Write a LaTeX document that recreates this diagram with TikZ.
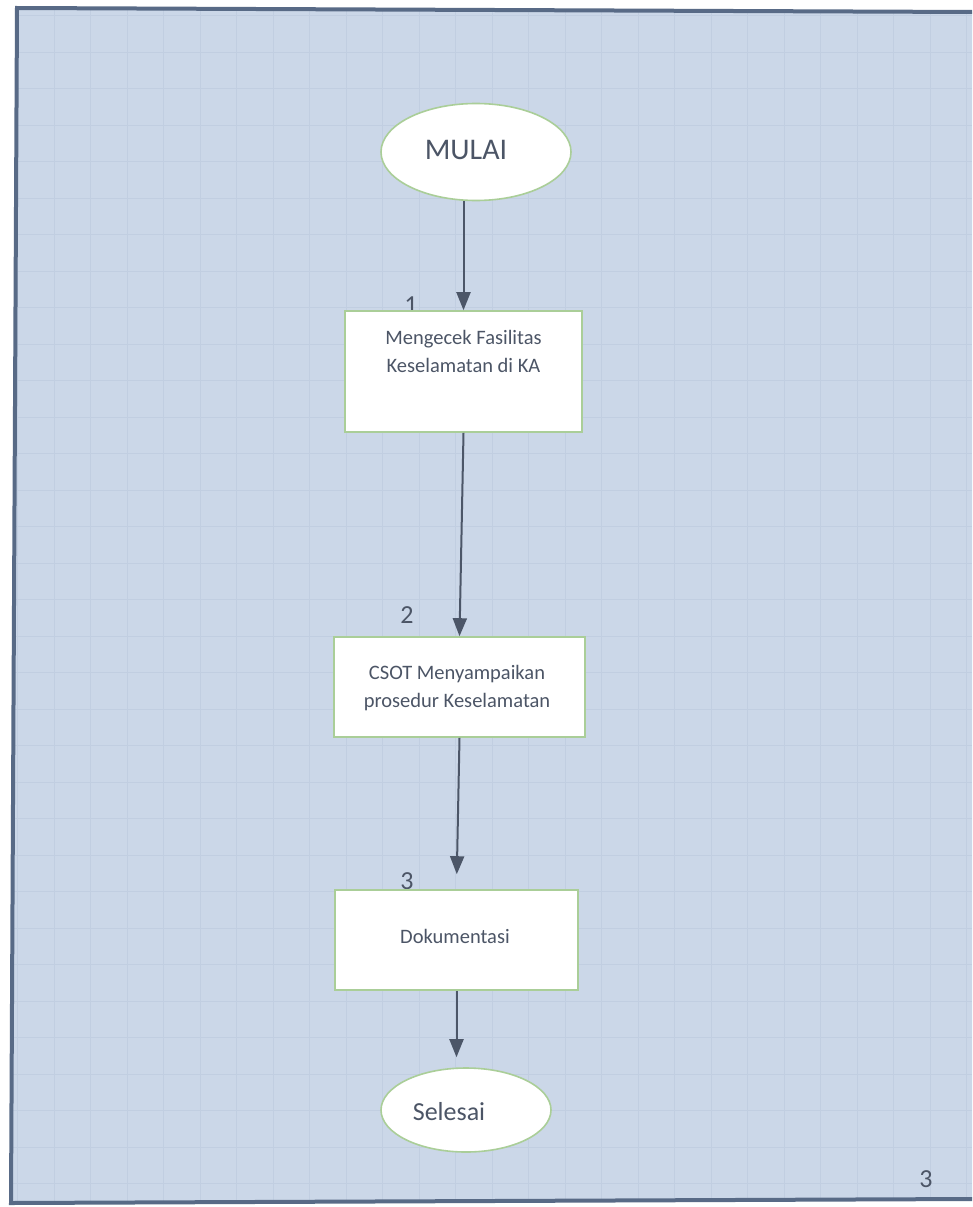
\documentclass[tikz,border=0pt]{standalone}
\usepackage{fontspec}
\setmainfont{Carlito}
\usetikzlibrary{shapes.geometric,arrows.meta}

\definecolor{paper}{RGB}{203,215,232}
\definecolor{gridline}{RGB}{193,206,225}
\definecolor{frameline}{RGB}{88,106,134}
\definecolor{ink}{RGB}{76,85,102}
\definecolor{arrowink}{RGB}{76,86,104}
\definecolor{edge}{RGB}{170,206,152}

\begin{document}
\begin{tikzpicture}[x=1pt,y=-1pt,
  stepbox/.style={draw=edge, line width=1.6pt, fill=white, rectangle, inner sep=0pt},
  terminal/.style={draw=edge, line width=1.6pt, fill=white, ellipse, inner sep=0pt},
  steptext/.style={text=ink, align=center, inner sep=0pt, font=\fontsize{20.5}{28}\selectfont},
  termtext/.style={text=ink, inner sep=0pt, anchor=base},
  stepnum/.style={text=ink, inner sep=0pt, anchor=base, font=\fontsize{26}{30}\selectfont},
  flow/.style={draw=arrowink, line width=2pt, -{Triangle[length=18pt,width=14pt]}},
]
% page and sheet
\useasboundingbox (0,0) rectangle (972,1207);
\fill[white] (0,0) rectangle (972,1207);
\fill[paper] (17,8) -- (972,12) -- (972,1199) -- (11,1203) -- cycle;
\begin{scope}
  \clip (17,8) -- (972,12) -- (972,1199) -- (11,1203) -- cycle;
  \foreach \i in {0,...,26} \draw[gridline, line width=0.9pt] ({17.5+36.5*\i},0) -- ++(0,1207);
  \foreach \j in {0,...,32} \draw[gridline, line width=0.9pt] (0,{15.5+36.5*\j}) -- ++(972,0);
\end{scope}
\draw[frameline, line width=4pt] (972,12) -- (17,8) -- (11,1203) -- (972,1199);

% step numbers (drawn first, the boxes overlap them)
\node[stepnum] (n1) at (411,313) {1};
\node[stepnum] (n2) at (407,623) {2};
\node[stepnum] (n3) at (407,889) {3};

% flow shapes
\node[terminal, minimum width=190pt, minimum height=97pt] (start) at (476,152) {};
\node[termtext, font=\fontsize{30}{34}\selectfont] (starttext) at (466,159) {MULAI};

\node[stepbox, minimum width=237pt, minimum height=121pt] (b1) at (463.5,371.5) {};
\node[steptext] (b1text) at (463.5,351) {Mengecek Fasilitas\\Keselamatan di KA};

\node[stepbox, minimum width=251pt, minimum height=100pt] (b2) at (459.5,687) {};
\node[steptext] (b2text) at (457,688.5) {CSOT Menyampaikan\\prosedur Keselamatan};

\node[stepbox, minimum width=243pt, minimum height=100pt] (b3) at (456.5,940) {};
\node[steptext, anchor=base] (b3text) at (455,943) {Dokumentasi};

\node[terminal, minimum width=170pt, minimum height=84pt] (end) at (466,1110) {};
\node[termtext, font=\fontsize{26}{30}\selectfont] (endtext) at (449,1120) {Selesai};

% connectors
\draw[flow] (b1.north |- start.south) -- (b1.north);
\draw[flow] (b1.south) -- (b2.north);
\draw[flow, shorten >=15pt] (b2.south) -- (b3.north);
\draw[flow, shorten >=10pt] (b3.south) -- (b3.south |- end.north);

% page number
\node[stepnum] (pageno) at (926,1187) {3};
\end{tikzpicture}
\end{document}
